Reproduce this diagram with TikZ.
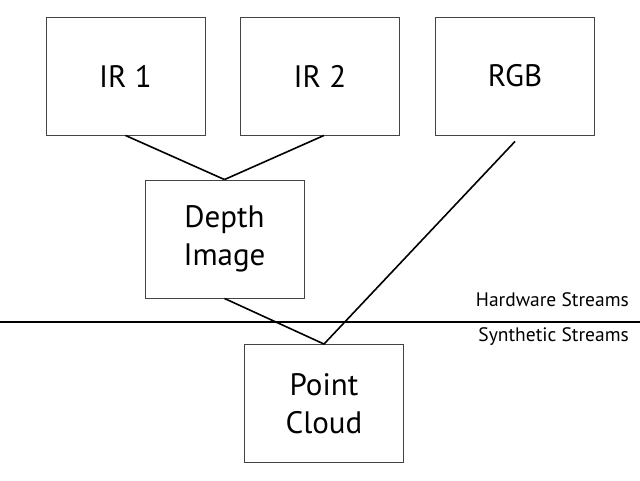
\documentclass[tikz,border=0pt]{standalone}
\usepackage{fontspec}
\setmainfont{PT Sans}
\usepackage{tikz}
\definecolor{BXEdge}{HTML}{444444}

\tikzset{
  streambox/.style={draw=BXEdge,line width=.9pt,minimum width=159pt,minimum height=118pt,
    align=center,font=\fontsize{31}{38}\selectfont,inner sep=0pt},
  link/.style={black,line width=1.6pt},
  tag/.style={font=\fontsize{19.5}{23}\selectfont,inner sep=0pt}
}

\begin{document}
\begin{tikzpicture}[x=1pt,y=-1pt]
\path[use as bounding box] (0,0) rectangle (640,480);
\fill[white] (0,0) rectangle (640,480);
% hardware streams
\node[streambox] (ir1) at (125.5,76) {IR 1};
\node[streambox] (ir2) at (320,76) {IR 2};
\node[streambox] (rgb) at (515,76) {RGB};
\node[streambox] (depth) at (224.5,239) {Depth\\Image};
% synthetic streams
\node[streambox] (cloud) at (324,403.5) {Point\\Cloud};
% split line
\coordinate (cutL) at (0,322);
\coordinate (cutR) at (640,322);
\draw[link] (cutL) -- (cutR);
\node[tag,anchor=east] (hw) at (629,300) {Hardware Streams};
\node[tag,anchor=east] (syn) at (629,337) {Synthetic Streams};
% links
\coordinate (rgbfoot) at ([yshift=-6pt]rgb.south);
\draw[link] (ir1.south) -- (depth.north);
\draw[link] ([xshift=4pt]ir2.south) -- (depth.north);
\draw[link] (depth.south) -- (cloud.north);
\draw[link] (rgbfoot) -- (cloud.north);
\end{tikzpicture}
\end{document}
